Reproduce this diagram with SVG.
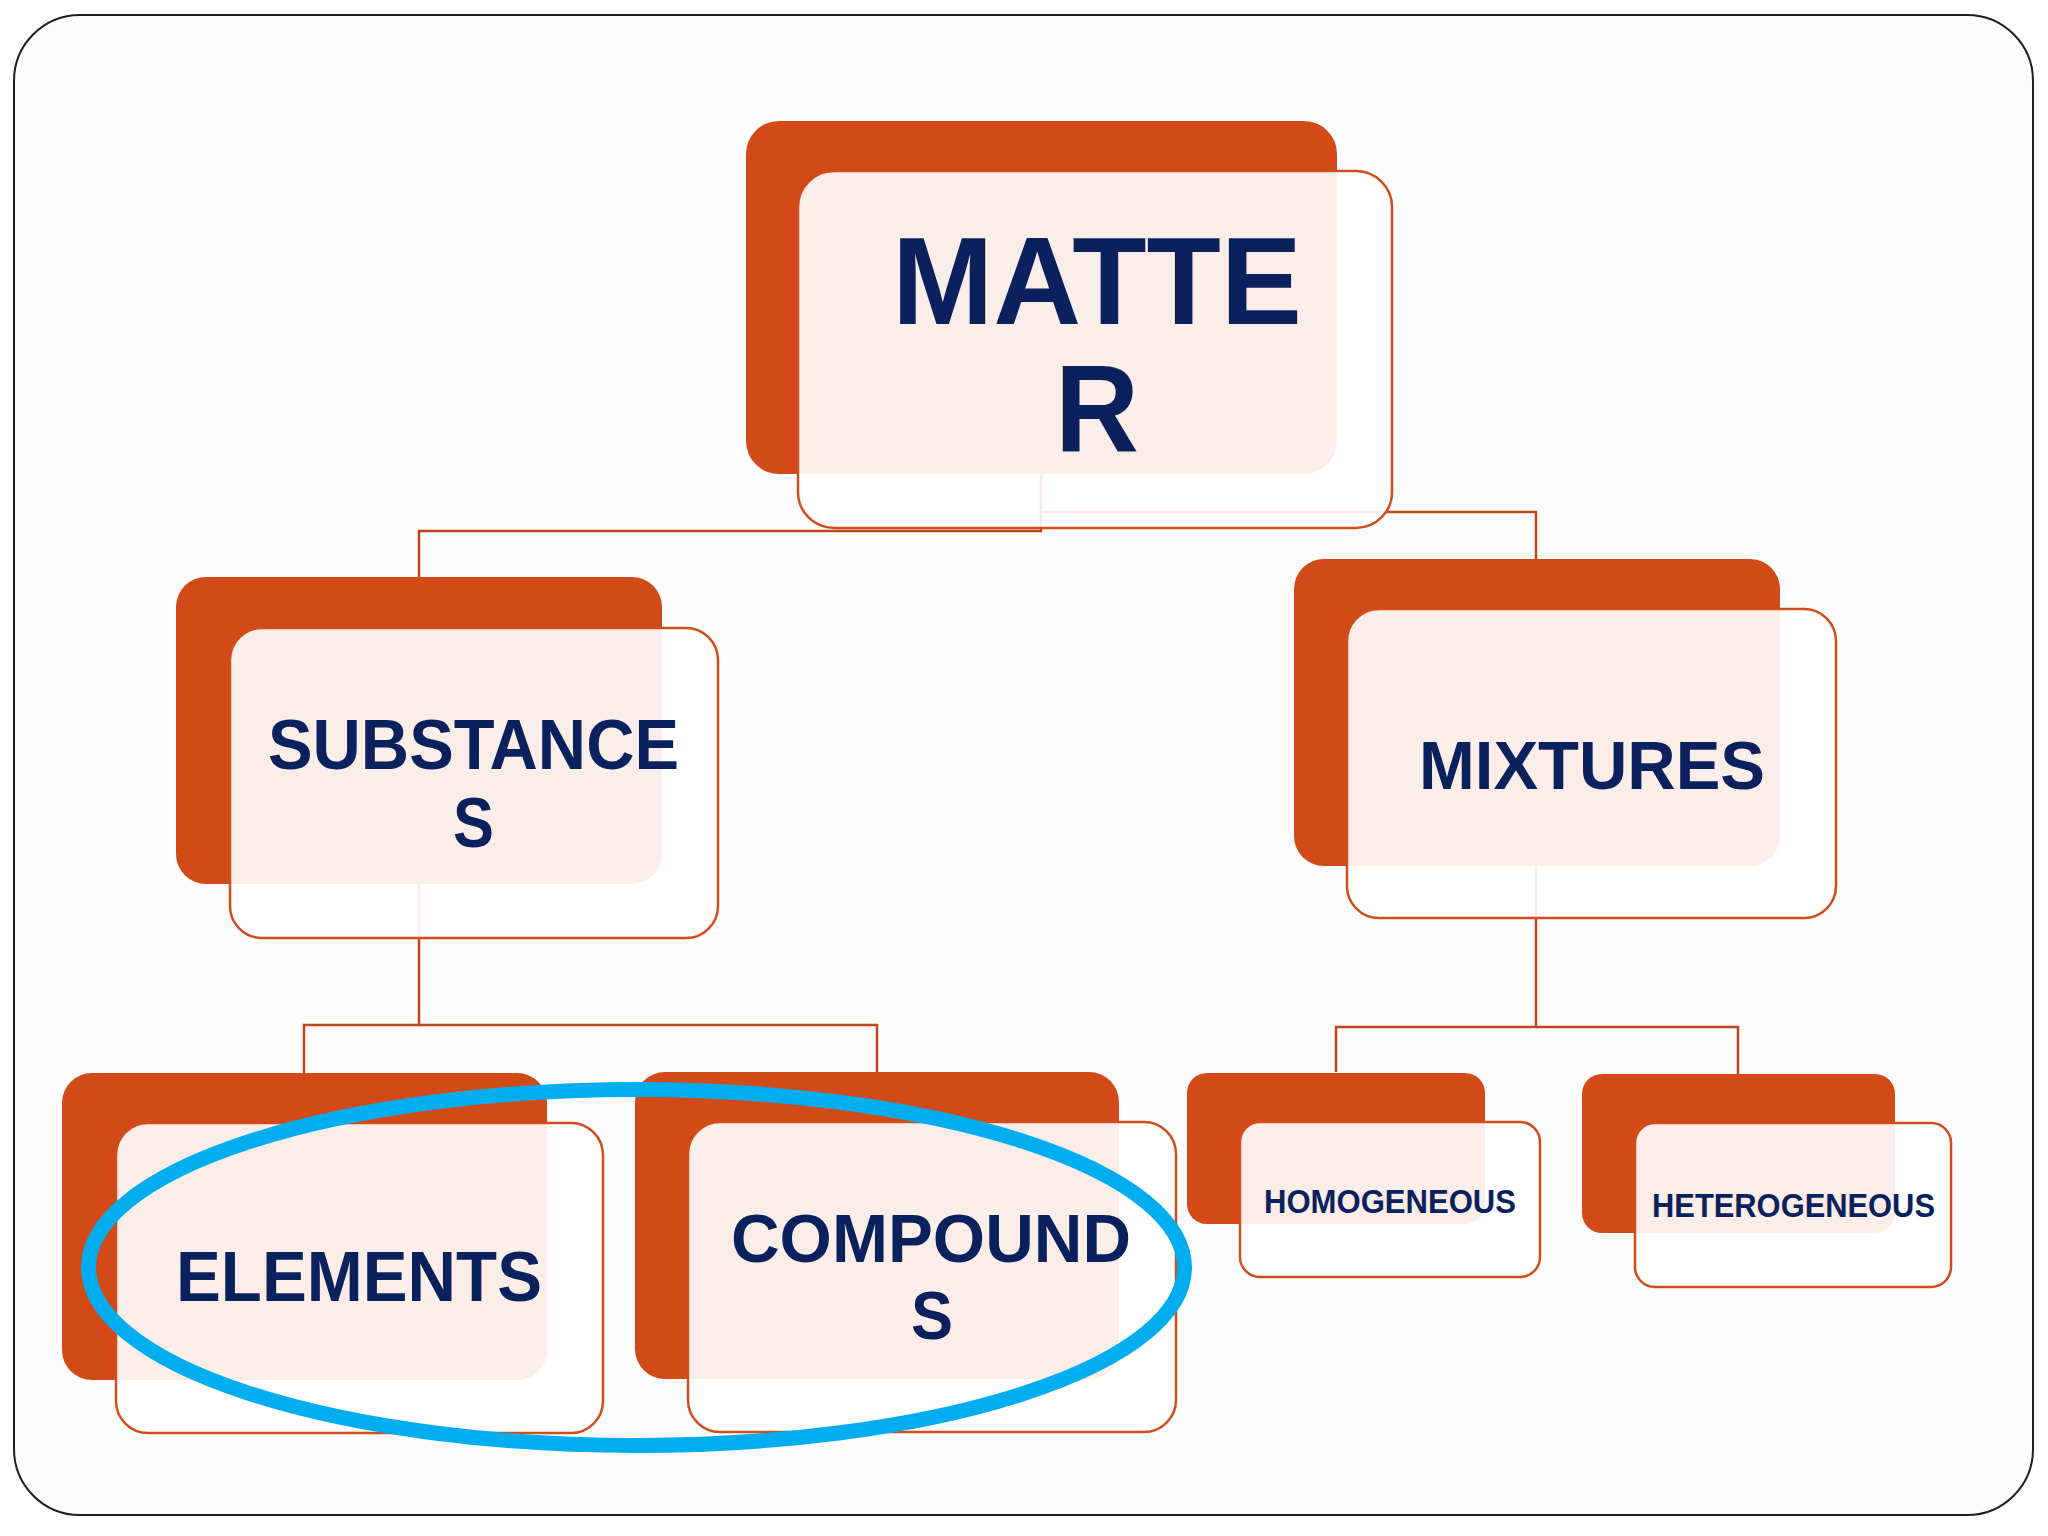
<svg xmlns="http://www.w3.org/2000/svg" width="2048" height="1536" viewBox="0 0 2048 1536">
  <style>
    .bg { fill: #ffffff; }
    .frame { fill: #fdfdfd; stroke: #1e1e1e; stroke-width: 2; }
    .back { fill: #d24a18; }
    .front { fill: #ffffff; fill-opacity: 0.9; stroke: #d04d1c; stroke-width: 2.5; }
    .lbl { font-family: "Liberation Sans", Arial, sans-serif; font-weight: bold; fill: #0a215e; text-anchor: middle; }
    .conn { fill: none; stroke: #c2441a; stroke-width: 2.5; }
    .ring { fill: none; stroke: #00aeef; stroke-width: 15; }
  </style>
  <rect class="bg" x="0" y="0" width="2048" height="1536"/>
  <rect class="frame" x="14" y="15" width="2019" height="1500" rx="66" ry="66"/>

  <g id="connectors">
    <path class="conn" d="M1041 474 V531 H419 V577"/>
    <path class="conn" d="M1041 512 H1536 V559"/>
    <path class="conn" d="M419 884 V1025 H304 V1073"/>
    <path class="conn" d="M419 1025 H877 V1072"/>
    <path class="conn" d="M1536 866 V1027 H1336 V1072"/>
    <path class="conn" d="M1536 1027 H1738 V1074"/>
  </g>

  <g id="matter">
    <rect class="back" x="746" y="121" width="591" height="353" rx="33"/>
    <rect class="front" x="798" y="171" width="594" height="357" rx="36"/>
    <text class="lbl" font-size="124"><tspan x="1097" y="324" textLength="410" lengthAdjust="spacingAndGlyphs">MATTE</tspan><tspan x="1097" y="452" textLength="84" lengthAdjust="spacingAndGlyphs">R</tspan></text>
  </g>

  <g id="substances">
    <rect class="back" x="176" y="577" width="486" height="307" rx="30"/>
    <rect class="front" x="230" y="628" width="488" height="310" rx="32"/>
    <text class="lbl" font-size="71"><tspan x="473.5" y="769" textLength="411" lengthAdjust="spacingAndGlyphs">SUBSTANCE</tspan><tspan x="473.5" y="847" textLength="41" lengthAdjust="spacingAndGlyphs">S</tspan></text>
  </g>

  <g id="mixtures">
    <rect class="back" x="1294" y="559" width="486" height="307" rx="30"/>
    <rect class="front" x="1347" y="609" width="489" height="309" rx="32"/>
    <text class="lbl" x="1592" y="789" font-size="69" textLength="346" lengthAdjust="spacingAndGlyphs">MIXTURES</text>
  </g>

  <g id="elements">
    <rect class="back" x="62" y="1073" width="485" height="307" rx="30"/>
    <rect class="front" x="116" y="1123" width="487" height="310" rx="32"/>
    <text class="lbl" x="359" y="1301" font-size="70" textLength="366" lengthAdjust="spacingAndGlyphs">ELEMENTS</text>
  </g>

  <g id="compounds">
    <rect class="back" x="635" y="1072" width="484" height="307" rx="30"/>
    <rect class="front" x="688" y="1122" width="488" height="310" rx="32"/>
    <text class="lbl" font-size="68"><tspan x="931" y="1262" textLength="400" lengthAdjust="spacingAndGlyphs">COMPOUND</tspan><tspan x="932" y="1339" textLength="42" lengthAdjust="spacingAndGlyphs">S</tspan></text>
  </g>

  <g id="homogeneous">
    <rect class="back" x="1187" y="1073" width="298" height="151" rx="20"/>
    <rect class="front" x="1240" y="1122" width="300" height="155" rx="20"/>
    <text class="lbl" x="1390" y="1213" font-size="33" textLength="252" lengthAdjust="spacingAndGlyphs">HOMOGENEOUS</text>
  </g>

  <g id="heterogeneous">
    <rect class="back" x="1582" y="1074" width="313" height="159" rx="20"/>
    <rect class="front" x="1635" y="1123" width="316" height="164" rx="20"/>
    <text class="lbl" x="1793.5" y="1217" font-size="33" textLength="283" lengthAdjust="spacingAndGlyphs">HETEROGENEOUS</text>
  </g>

  <g id="highlight">
    <ellipse class="ring" cx="636.5" cy="1267.5" rx="548" ry="178"/>
  </g>
</svg>
